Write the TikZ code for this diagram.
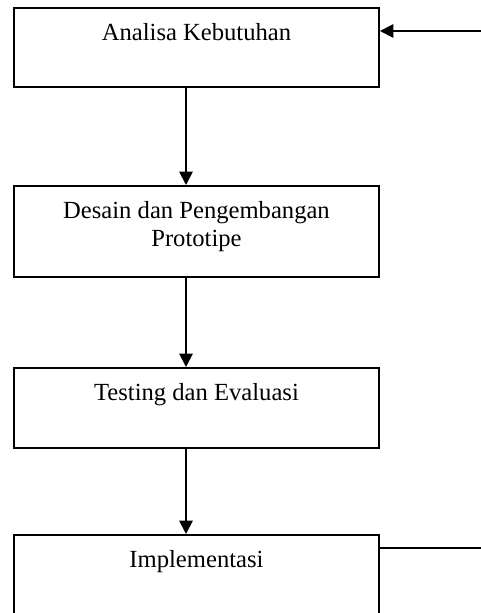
\documentclass[tikz,border=0pt]{standalone}
\usepackage{fontspec}
\setmainfont{Liberation Serif}
\usetikzlibrary{positioning,calc,arrows.meta}

\begin{document}
\begin{tikzpicture}[x=0.4875pt, y=-0.4875pt, line width=0.9pt,
    stagebox/.style={draw, rectangle, minimum width=178pt, inner sep=0pt},
    stagetext/.style={align=center, inner sep=0pt, font=\fontsize{12}{13.7}\selectfont},
    flow/.style={-{Triangle[length=6.5pt, width=6.5pt]}}]
    \useasboundingbox (0,0) rectangle (481,613);
    \clip (0,0) rectangle (481,613);

    % Stage blocks
    \node [stagebox, minimum height=38.5pt, anchor=north west] (analisa) at (13,7) {};
    \node [stagebox, minimum height=44.4pt, anchor=north west] (desain) at (13,185) {};
    \node [stagebox, minimum height=39pt, anchor=north west] (testing) at (13,367) {};
    \node [stagebox, minimum height=45pt, anchor=north west] (implementasi) at (13,534) {};

    % Stage names
    \node [stagetext, below=7.6pt of analisa.north] {Analisa Kebutuhan};
    \node [stagetext, below=7.6pt of desain.north] {Desain dan Pengembangan\\Prototipe};
    \node [stagetext, below=7.6pt of testing.north] {Testing dan Evaluasi};
    \node [stagetext, below=7.6pt of implementasi.north] {Implementasi};

    % Connections
    \coordinate (axis) at (186,0);
    \coordinate (loopin) at (481,31);
    \coordinate (loopout) at (481,548);
    \draw [flow] (analisa.south -| axis) -- (desain.north -| axis);
    \draw [flow] (desain.south -| axis) -- (testing.north -| axis);
    \draw [flow] (testing.south -| axis) -- (implementasi.north -| axis);
    \draw (implementasi.east |- loopout) -- (loopout);
    \draw [flow] (loopin) -- (analisa.east |- loopin);

\end{tikzpicture}
\end{document}
